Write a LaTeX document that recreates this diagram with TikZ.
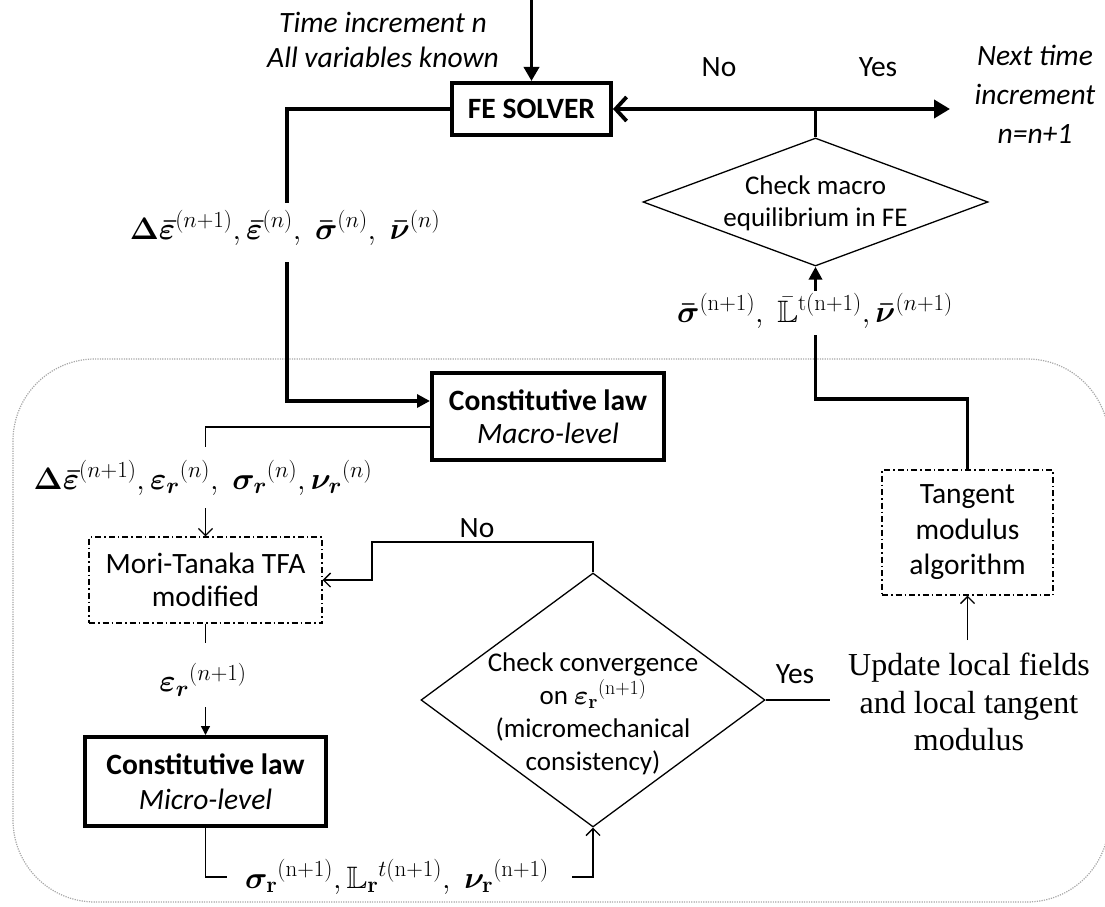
\RequirePackage{fix-cm}
\documentclass[tikz,border=0pt]{standalone}
\usepackage{amsmath,amssymb,bm}
\usepackage[no-math]{fontspec}
\setmainfont{Carlito}
\newfontfamily\upserif{Liberation Serif}
\DeclareFontFamily{U}{msb}{}
\DeclareFontShape{U}{msb}{m}{n}{<-> msbm10}{}
\DeclareMathSizes{31}{31}{23}{17}
\DeclareMathSizes{27}{27}{20}{15}
\usetikzlibrary{arrows.meta,shapes.geometric}
\newcommand\mainsize{\fontsize{29.5}{35}\selectfont}
\newcommand\mathsz{\fontsize{31}{36}\selectfont}
\tikzset{
  thickln/.style={line width=3.8pt},
  thinln/.style={line width=1.3pt},
  heavybox/.style={draw, rectangle, line width=4pt, inner sep=0pt, align=center, font=\mainsize},
  dashbox/.style={draw, rectangle, line width=1.3pt, dash pattern=on 6pt off 3pt on 1.5pt off 3pt, inner sep=0pt, align=center},
  decision/.style={draw, diamond, line width=1.3pt, inner sep=0pt},
  bigtip/.style={-{Triangle[length=14pt,width=15pt]}},
  opentip/.style={-{Straight Barb[length=7pt,width=14pt,line width=1.3pt]}},
  mathlab/.style={font=\mathsz, inner sep=0pt},
}
\begin{document}
\begin{tikzpicture}[x=1pt,y=-1pt]
\useasboundingbox (0,0) rectangle (1105,907);

% outer dotted frame
\draw[gray!70, line width=1.2pt, dash pattern=on 1.2pt off 1.2pt, rounded corners=82pt] (13,359) rectangle (1109,902);

% boxes
\node[heavybox, minimum width=159pt, minimum height=52pt] (fe) at (531.5,109) {\bfseries FE SOLVER};
\node[heavybox, minimum width=232pt, minimum height=87pt, font=\fontsize{29.5}{33}\selectfont] (macro) at (548,416.5) {\textbf{Constitutive law}\\\textit{Macro-level}};
\node[heavybox, minimum width=241pt, minimum height=89pt] (micro) at (205.5,781.5) {\textbf{Constitutive law}\\\textit{Micro-level}};
\node[dashbox, minimum width=233pt, minimum height=86pt, font=\fontsize{29.5}{33}\selectfont] (mt) at (205.5,580) {Mori-Tanaka TFA\\modified};
\node[dashbox, minimum width=171pt, minimum height=125pt, font=\fontsize{29.5}{35.5}\selectfont] (tan) at (967.5,532.5) {Tangent\\modulus\\algorithm};
\node[decision, minimum width=345pt, minimum height=128pt] (d1) at (815.5,202) {};
\node[decision, minimum width=344pt, minimum height=254pt] (d2) at (593,700) {};

% texts
\node[align=center, font=\mainsize\itshape] (tin) at (383,40) {Time increment n\\All variables known};
\node[align=center, font=\fontsize{29.5}{39}\selectfont\itshape] (nxt) at (1035,94) {Next time\\increment\\n=n+1};
\node[font=\mainsize] (no1) at (719,67) {No};
\node[font=\mainsize] (yes1) at (878,67) {Yes};
\node[font=\mainsize] (no2) at (477,528) {No};
\node[font=\mainsize] (yes2) at (795,674) {Yes};
\node[align=center, font=\fontsize{27}{32}\selectfont] (d1t) at (815.5,203) {Check macro\\equilibrium in FE};
\node[align=center, font=\fontsize{27}{33}\selectfont] (d2t) at (593,714) {Check convergence\\on $\boldsymbol{\varepsilon}_{\mathbf{r}}{}^{\mathrm{(n+1)}}$\\(micromechanical\\consistency)};
\node[align=center, font=\upserif\fontsize{32}{37.5}\selectfont] (updt) at (969,702) {Update local fields\\and local tangent\\modulus};

% math labels
\node[mathlab] (lab1) at (285,228) {$\boldsymbol{\Delta\bar{\varepsilon}}^{(n+1)}, \boldsymbol{\bar{\varepsilon}}^{(n)},\; \boldsymbol{\bar{\sigma}}^{(n)},\; \boldsymbol{\bar{\nu}}^{(n)}$};
\node[mathlab] (lab2) at (203,478) {$\boldsymbol{\Delta\bar{\varepsilon}}^{(n+1)}, \boldsymbol{\varepsilon}_{\boldsymbol{r}}{}^{(n)},\; \boldsymbol{\sigma}_{\boldsymbol{r}}{}^{(n)}, \boldsymbol{\nu}_{\boldsymbol{r}}{}^{(n)}$};
\node[mathlab] (lab3) at (203,680) {$\boldsymbol{\varepsilon}_{\boldsymbol{r}}{}^{(n+1)}$};
\node[mathlab] (lab4) at (397,877) {$\boldsymbol{\sigma}_{\mathbf{r}}{}^{\mathrm{(n+1)}},\mathbb{L}_{\mathbf{r}}{}^{t\mathrm{(n+1)}},\; \boldsymbol{\nu}_{\mathbf{r}}{}^{\mathrm{(n+1)}}$};
\node[mathlab] (lab5) at (815,311) {$\boldsymbol{\bar{\sigma}}^{\mathrm{(n+1)}},\; \bar{\mathbb{L}}^{\mathrm{t(n+1)}},\boldsymbol{\bar{\nu}}^{(n+1)}$};

% coordinates
\coordinate (start) at (531.5,0);
\coordinate (l1a) at (287,203);
\coordinate (l1b) at (287,262);
\coordinate (l2a) at (205.5,447);
\coordinate (l2b) at (205.5,508);
\coordinate (l3a) at (205.5,643);
\coordinate (l3b) at (205.5,707);
\coordinate (l4a) at (227,877);
\coordinate (l4b) at (572,877);
\coordinate (nobend) at (372,542);
\coordinate (yesend) at (830,700);
\coordinate (upd) at (967.5,640);
\coordinate (bend5) at (815.5,399);
\coordinate (l5a) at (815.5,335);
\coordinate (l5b) at (815.5,291);
\coordinate (junc) at (815.5,109);
\coordinate (nextarr) at (950,109);

% connectors
\draw[thickln, bigtip] (start) -- (fe.north);
\draw[thickln] (fe.west) -| (l1a);
\draw[thickln, -{Triangle[length=13pt,width=13pt]}] (l1b) |- ([yshift=15.5pt]macro.west);
\draw[thinln] ([yshift=-10.5pt]macro.west) -| (l2a);
\draw[thinln, opentip] (l2b) -- (mt.north);
\draw[thinln] (mt.south) -- (l3a);
\draw[thinln, -{Triangle[length=9pt,width=9pt]}] (l3b) -- (micro.north);
\draw[thinln] (micro.south) |- (l4a);
\draw[thinln, opentip] (l4b) -| (d2.south);
\draw[thinln, opentip] (d2.north) |- (nobend) |- (mt.east);
\draw[thinln] (d2.east) -- (yesend);
\draw[thinln, opentip] (upd) -- (tan.south);
\draw[thickln] (tan.north) |- (bend5) -- (l5a);
\draw[thickln, -{Triangle[length=13pt,width=13pt]}] (l5b) -- (d1.south);
\draw[thickln] (d1.north) -- (junc);
\draw[thickln, {Straight Barb[length=11pt,width=24pt,line width=3.8pt]}-{Triangle[length=16pt,width=18pt]}] (fe.east) -- (nextarr);
\end{tikzpicture}
\end{document}
